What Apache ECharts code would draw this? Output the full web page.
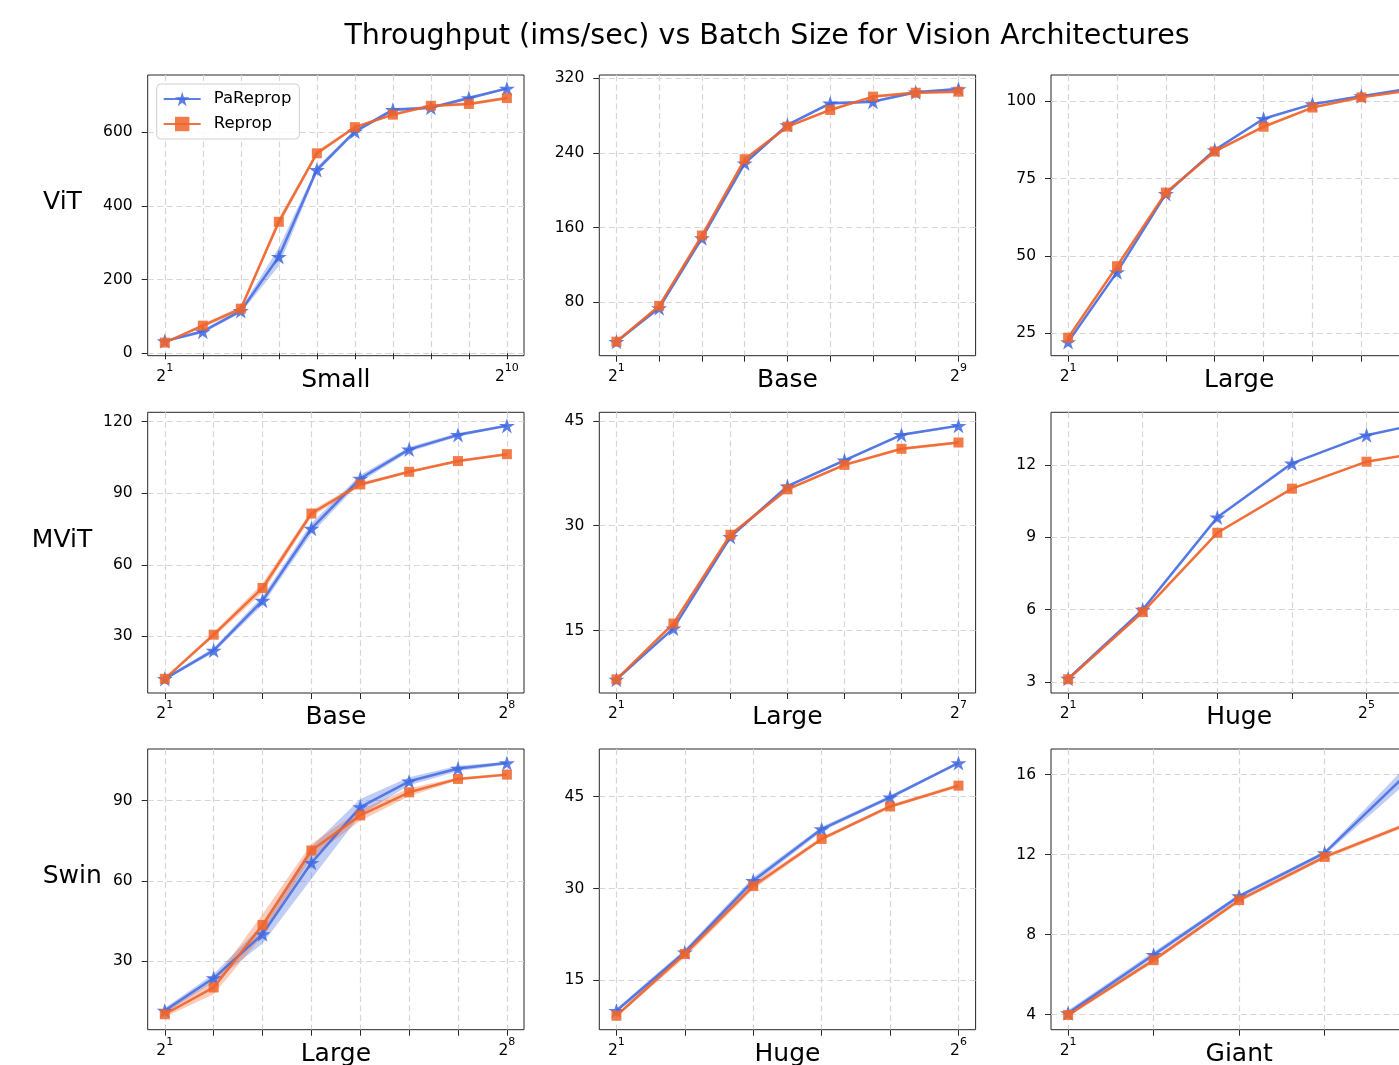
<!DOCTYPE html>
<html><head><meta charset="utf-8">
<script src="https://cdn.jsdelivr.net/npm/echarts@6/dist/echarts.min.js"></script>
<style>html,body{margin:0;padding:0;background:#fff;overflow:hidden}#c{width:1399px;height:1065px}</style>
</head><body><div id="c"></div>
<script>
// ---------------- data ----------------
const models = ['ViT', 'MViT', 'Swin'];
const seriesNames = ['PaReprop', 'Reprop'];
const titleText = 'Throughput (ims/sec) vs Batch Size for Vision Architectures';

// ViT
const batchVitSmall = [2, 4, 8, 16, 32, 64, 128, 256, 512, 1024];
const paVitSmall = [33, 59, 115, 262, 498, 602, 661, 667, 693, 719];
const reVitSmall = [29, 75, 121, 357, 543, 614, 648, 672, 677, 693];
const paStdVitSmall = [3, 5, 6, 25, 8, 5, 5, 4, 5, 2];
const reStdVitSmall = [1, 5, 6, 10, 6, 4, 4, 4, 4, 4];
const yTicksVitSmall = [0, 200, 400, 600];

const batchVitBase = [2, 4, 8, 16, 32, 64, 128, 256, 512];
const paVitBase = [37.5, 73.6, 148.6, 228.9, 270, 293.2, 295, 305, 308.6];
const reVitBase = [37.5, 76, 151.4, 233.2, 268.2, 286.1, 300.4, 304.6, 305.7];
const paStdVitBase = [1.3, 1.5, 2, 2, 1.5, 1.5, 1.5, 1.5, 1.3];
const reStdVitBase = [1.3, 1.5, 2.5, 2, 1.5, 1.5, 1.5, 1.5, 1.5];
const yTicksVitBase = [80, 160, 240, 320];

const batchVitLarge = [2, 4, 8, 16, 32, 64, 128, 256];
const paVitLarge = [22.2, 44.8, 70.1, 84.3, 94.4, 99.1, 101.7, 104.2];
const reVitLarge = [23.6, 46.7, 70.5, 83.8, 91.8, 98.0, 101.3, 103.5];
const paStdVitLarge = [0.3, 0.5, 0.5, 0.4, 0.4, 0.3, 0.3, 0.2];
const reStdVitLarge = [0.3, 0.5, 0.5, 0.4, 0.4, 0.3, 0.3, 0.2];
const yTicksVitLarge = [25, 50, 75, 100];

// MViT
const batchMvitBase = [2, 4, 8, 16, 32, 64, 128, 256];
const paMvitBase = [12.2, 24.1, 45.0, 75.2, 96.2, 108.4, 114.5, 118.3];
const reMvitBase = [12.2, 30.7, 50.3, 81.5, 93.7, 99.0, 103.5, 106.4];
const paStdMvitBase = [0.6, 1, 1.8, 2.2, 1.5, 1, 0.8, 0.3];
const reStdMvitBase = [0.5, 1, 2, 1.3, 0.8, 0.5, 0.5, 0.5];
const yTicksMvitBase = [30, 60, 90, 120];

const batchMvitLarge = [2, 4, 8, 16, 32, 64, 128];
const paMvitLarge = [7.98, 15.3, 28.4, 35.65, 39.35, 43.0, 44.3];
const reMvitLarge = [8.0, 16.0, 28.7, 35.2, 38.7, 41.0, 41.9];
const paStdMvitLarge = [0.1, 0.2, 0.3, 0.2, 0.2, 0.2, 0.1];
const reStdMvitLarge = [0.1, 0.2, 0.3, 0.2, 0.2, 0.2, 0.2];
const yTicksMvitLarge = [15, 30, 45];

const batchMvitHuge = [2, 4, 8, 16, 32, 48];
const paMvitHuge = [3.14, 6.0, 9.83, 12.07, 13.24, 13.63];
const reMvitHuge = [3.11, 5.9, 9.19, 11.02, 12.14, 12.44];
const paStdMvitHuge = [0.04, 0.05, 0.05, 0.04, 0.04, 0.03];
const reStdMvitHuge = [0.04, 0.05, 0.05, 0.04, 0.04, 0.03];
const yTicksMvitHuge = [3, 6, 9, 12];

// Swin
const batchSwinLarge = [2, 4, 8, 16, 32, 64, 128, 256];
const paSwinLarge = [11.65, 23.8, 40.2, 66.8, 87.6, 97.2, 102.0, 104.0];
const reSwinLarge = [10.3, 20.3, 43.6, 71.4, 84.5, 93.1, 98.1, 99.7];
const paStdSwinLarge = [1, 1.5, 3.5, 6, 3, 1.5, 1, 0.5];
const reStdSwinLarge = [1, 2.5, 4, 2.5, 2, 1.5, 0.5, 0.5];
const yTicksSwinLarge = [30, 60, 90];

const batchSwinHuge = [2, 4, 8, 16, 32, 64];
const paSwinHuge = [10.05, 19.6, 31.25, 39.7, 44.9, 50.5];
const reSwinHuge = [9.23, 19.3, 30.4, 38.1, 43.4, 46.8];
const paStdSwinHuge = [0.3, 0.5, 0.6, 0.4, 0.3, 0.2];
const reStdSwinHuge = [0.2, 0.6, 0.5, 0.3, 0.3, 0.3];
const yTicksSwinHuge = [15, 30, 45];

const batchSwinGiant = [2, 4, 8, 16, 32];
const paSwinGiant = [4.07, 6.99, 9.92, 12.08, 16.19];
const reSwinGiant = [3.98, 6.72, 9.72, 11.88, 13.58];
const paStdSwinGiant = [0.15, 0.15, 0.1, 0.1, 0.45];
const reStdSwinGiant = [0.1, 0.1, 0.1, 0.1, 0.1];
const yTicksSwinGiant = [4, 8, 12, 16];

// ---------------- panels ----------------
const panels = [
  {row: 0, col: 0, size: 'Small', batch: batchVitSmall, pa: paVitSmall, re: reVitSmall, paStd: paStdVitSmall, reStd: reStdVitSmall, yTicks: yTicksVitSmall, xLab: [2, 1024]},
  {row: 0, col: 1, size: 'Base', batch: batchVitBase, pa: paVitBase, re: reVitBase, paStd: paStdVitBase, reStd: reStdVitBase, yTicks: yTicksVitBase, xLab: [2, 512]},
  {row: 0, col: 2, size: 'Large', batch: batchVitLarge, pa: paVitLarge, re: reVitLarge, paStd: paStdVitLarge, reStd: reStdVitLarge, yTicks: yTicksVitLarge, xLab: [2, 256]},
  {row: 1, col: 0, size: 'Base', batch: batchMvitBase, pa: paMvitBase, re: reMvitBase, paStd: paStdMvitBase, reStd: reStdMvitBase, yTicks: yTicksMvitBase, xLab: [2, 256]},
  {row: 1, col: 1, size: 'Large', batch: batchMvitLarge, pa: paMvitLarge, re: reMvitLarge, paStd: paStdMvitLarge, reStd: reStdMvitLarge, yTicks: yTicksMvitLarge, xLab: [2, 128]},
  {row: 1, col: 2, size: 'Huge', batch: batchMvitHuge, pa: paMvitHuge, re: reMvitHuge, paStd: paStdMvitHuge, reStd: reStdMvitHuge, yTicks: yTicksMvitHuge, xLab: [2, 32]},
  {row: 2, col: 0, size: 'Large', batch: batchSwinLarge, pa: paSwinLarge, re: reSwinLarge, paStd: paStdSwinLarge, reStd: reStdSwinLarge, yTicks: yTicksSwinLarge, xLab: [2, 256]},
  {row: 2, col: 1, size: 'Huge', batch: batchSwinHuge, pa: paSwinHuge, re: reSwinHuge, paStd: paStdSwinHuge, reStd: reStdSwinHuge, yTicks: yTicksSwinHuge, xLab: [2, 64]},
  {row: 2, col: 2, size: 'Giant', batch: batchSwinGiant, pa: paSwinGiant, re: reSwinGiant, paStd: paStdSwinGiant, reStd: reStdSwinGiant, yTicks: yTicksSwinGiant, xLab: [2, 32]}
];

// ---------------- style / layout ----------------
const FONT = 'DejaVu Sans';
const BLUE = '#4169E1';
const ORANGE = '#F0642A';
const GRID_LEFT = [147.7, 599.3, 1051];
const GRID_TOP = [75, 412.3, 749];
const GRID_W = 376.3, GRID_H = 280.7;
const YNAME_GAP = [85.2, 85.7, 75.5];
const STAR = 'path://M0,-10L2.245,-3.09L9.511,-3.09L3.633,1.18L5.878,8.09L0,3.82L-5.878,8.09L-3.633,1.18L-9.511,-3.09L-2.245,-3.09Z';
const GRIDLINE = {show: true, lineStyle: {type: [6, 3.5], color: '#d6d6d6', width: 1.2}};

const grids = [], xAxes = [], yAxes = [], series = [];

function band(i, batch, mean, std, color) {
  return {
    type: 'custom', xAxisIndex: i, yAxisIndex: i, silent: true, z: 1,
    data: [[batch[0], mean[0]]],
    renderItem: function (params, api) {
      const pts = [];
      for (let k = 0; k < batch.length; k++) pts.push(api.coord([batch[k], mean[k] + std[k]]));
      for (let k = batch.length - 1; k >= 0; k--) pts.push(api.coord([batch[k], mean[k] - std[k]]));
      return {type: 'polygon', shape: {points: pts}, style: {fill: color, opacity: 0.33}};
    }
  };
}

panels.forEach(function (p, i) {
  grids.push({left: GRID_LEFT[p.col], top: GRID_TOP[p.row], width: GRID_W, height: GRID_H,
    outerBoundsMode: 'none', containLabel: false,
    show: true, borderColor: '#262626', borderWidth: 1, backgroundColor: 'transparent'});

  const l0 = Math.log2(p.batch[0]), l1 = Math.log2(p.batch[p.batch.length - 1]);
  const R = l1 - l0;
  xAxes.push({
    gridIndex: i, type: 'log', logBase: 2,
    min: Math.pow(2, l0 - 0.05 * R), max: Math.pow(2, l1 + 0.05 * R),
    name: p.size, nameLocation: 'middle', nameGap: 12.4, nameMoveOverlap: false,
    nameTextStyle: {fontSize: 25, color: '#000', fontFamily: FONT, verticalAlign: 'top'},
    axisLine: {show: false},
    axisTick: {show: true, length: 6, customValues: p.batch, lineStyle: {color: '#262626', width: 1}},
    axisLabel: {
      show: true, customValues: p.xLab, margin: 7,
      formatter: function (v) { return '{b|2}{s|' + Math.round(Math.log2(v)) + '}'; },
      rich: {
        b: {fontSize: 15.5, color: '#000', fontFamily: FONT, lineHeight: 22, verticalAlign: 'bottom'},
        s: {fontSize: 11, color: '#000', fontFamily: FONT, lineHeight: 12, verticalAlign: 'top'}
      }
    },
    splitLine: GRIDLINE
  });

  let dmin = Infinity, dmax = -Infinity;
  p.batch.forEach(function (_, k) {
    dmin = Math.min(dmin, p.pa[k] - p.paStd[k], p.re[k] - p.reStd[k]);
    dmax = Math.max(dmax, p.pa[k] + p.paStd[k], p.re[k] + p.reStd[k]);
  });
  const span = dmax - dmin;
  yAxes.push({
    gridIndex: i, type: 'value', min: dmin - 0.05 * span, max: dmax + 0.05 * span,
    name: p.col === 0 ? models[p.row] : '', nameLocation: 'middle', nameRotate: 0, nameGap: YNAME_GAP[p.row],
    nameMoveOverlap: false,
    nameTextStyle: {fontSize: 25, color: '#000', fontFamily: FONT, align: 'center', verticalAlign: 'bottom'},
    axisLine: {show: false},
    axisTick: {show: true, length: 6, customValues: p.yTicks, lineStyle: {color: '#262626', width: 1}},
    axisLabel: {show: true, customValues: p.yTicks, fontSize: 15.5, color: '#000', fontFamily: FONT, margin: 15},
    splitLine: GRIDLINE
  });

  series.push(band(i, p.batch, p.pa, p.paStd, BLUE));
  series.push(band(i, p.batch, p.re, p.reStd, ORANGE));
  series.push({
    type: 'line', name: seriesNames[0], xAxisIndex: i, yAxisIndex: i, z: 3,
    data: p.batch.map(function (b, k) { return [b, p.pa[k]]; }),
    symbol: STAR, symbolSize: 16, symbolKeepAspect: true, showAllSymbol: true,
    lineStyle: {color: BLUE, width: 2.5, opacity: 0.85},
    itemStyle: {color: BLUE, opacity: 0.85}
  });
  series.push({
    type: 'line', name: seriesNames[1], xAxisIndex: i, yAxisIndex: i, z: 4,
    data: p.batch.map(function (b, k) { return [b, p.re[k]]; }),
    symbol: 'rect', symbolSize: 10, showAllSymbol: true,
    lineStyle: {color: ORANGE, width: 2.5, opacity: 0.9},
    itemStyle: {color: ORANGE, opacity: 0.85}
  });
});

const chart = echarts.init(document.getElementById('c'), null, {renderer: 'canvas'});
chart.setOption({
  animation: false,
  backgroundColor: '#fff',
  textStyle: {fontFamily: FONT},
  grid: grids, xAxis: xAxes, yAxis: yAxes, series: series,
  legend: {
    data: seriesNames, orient: 'vertical', left: 156.7, top: 84,
    itemWidth: 37, itemHeight: 18, itemGap: 7, padding: [6, 8, 6, 6],
    backgroundColor: 'rgba(255,255,255,0.85)', borderColor: '#d0d0d0', borderWidth: 1, borderRadius: 4,
    textStyle: {fontSize: 16.5, color: '#000', fontFamily: FONT, lineHeight: 18, padding: [0, 0, 0, 8]},
    selectedMode: false
  },
  graphic: [{
    type: 'text', x: 767, y: 36.5, silent: true,
    style: {text: titleText, fontSize: 28.5, fontFamily: FONT, fill: '#000', align: 'center', verticalAlign: 'middle'}
  }]
});
</script></body></html>
